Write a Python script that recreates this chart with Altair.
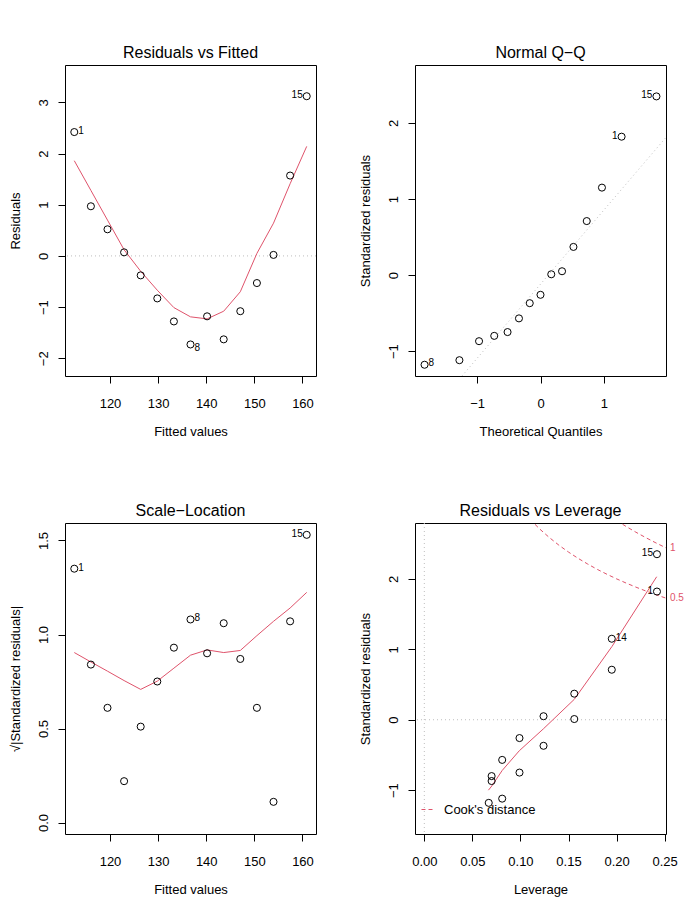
import altair as alt
import pandas as pd

# ---------------- data ----------------
obs_id = list(range(1, 16))
fitted_values = [112.58, 116.03, 119.48, 122.93, 126.38, 129.83, 133.28, 136.73,
                 140.18, 143.63, 147.08, 150.53, 153.98, 157.43, 160.88]
residuals = [2.42, 0.97, 0.52, 0.07, -0.38, -0.83, -1.28, -1.73,
             -1.18, -1.63, -1.08, -0.53, 0.02, 1.57, 3.12]
std_residuals = [1.82, 0.71, 0.37, 0.05, -0.26, -0.57, -0.87, -1.18,
                 -0.80, -1.12, -0.75, -0.37, 0.01, 1.15, 2.35]
sqrt_abs_std_residuals = [1.35, 0.84, 0.61, 0.22, 0.51, 0.75, 0.93, 1.08,
                          0.90, 1.06, 0.87, 0.61, 0.11, 1.07, 1.53]
leverage = [0.242, 0.195, 0.156, 0.124, 0.099, 0.081, 0.070, 0.067,
            0.070, 0.081, 0.099, 0.124, 0.156, 0.195, 0.242]

qq_ids = [8, 10, 7, 9, 11, 6, 12, 5, 13, 4, 3, 2, 14, 1, 15]
qq_theoretical = [-1.83, -1.28, -0.97, -0.73, -0.52, -0.34, -0.17, 0.00,
                  0.17, 0.34, 0.52, 0.73, 0.97, 1.28, 1.83]
qq_sample = [-1.18, -1.12, -0.87, -0.80, -0.75, -0.57, -0.37, -0.26,
             0.01, 0.05, 0.37, 0.71, 1.15, 1.82, 2.35]
qq_line_x = [-1.98, 1.98]
qq_line_y = [-2.05, 1.81]

smooth_resid = [1.86, 1.28, 0.70, 0.12, -0.30, -0.67, -1.01, -1.19,
                -1.23, -1.08, -0.70, 0.05, 0.64, 1.41, 2.14]
smooth_scale = [0.904, 0.854, 0.805, 0.755, 0.708, 0.752, 0.821, 0.890,
                0.918, 0.904, 0.915, 0.994, 1.070, 1.141, 1.224]
smooth_lev_x = [0.0667, 0.0702, 0.0810, 0.0988, 0.1238, 0.1560, 0.1952, 0.2417]
smooth_lev_y = [-1.00, -0.94, -0.72, -0.44, -0.13, 0.29, 1.04, 2.03]

cook_half_h = [0.11, 0.12, 0.13, 0.14, 0.15, 0.16, 0.17, 0.18, 0.19, 0.20,
               0.21, 0.22, 0.23, 0.24, 0.2514]
cook_half_y = [2.844, 2.708, 2.587, 2.478, 2.380, 2.291, 2.210, 2.134, 2.065,
               2.000, 1.940, 1.883, 1.830, 1.780, 1.726]
cook_one_h = [0.20, 0.21, 0.22, 0.23, 0.24, 0.2514]
cook_one_y = [2.828, 2.743, 2.663, 2.588, 2.517, 2.440]

# ---------------- style ----------------
RED = "#DF536B"
GRAY = "#BEBEBE"
FONT = "Liberation Sans"
W, H = 251, 311
COL_GAP, ROW_GAP = 99, 147

fit_dom = [110.65, 162.81]
resid_dom = [-2.346, 3.730]
qqx_dom = [-1.981, 1.981]
qqy_dom = [-1.328, 2.763]
sl_dom = [-0.061, 1.593]
levx_dom = [-0.0097, 0.2514]
levy_dom = [-1.622, 2.793]


def sc(dom):
    return alt.Scale(domain=dom, nice=False, zero=False)


def xenc(dom, values, title, fmt=None):
    ax = alt.Axis(values=values, title=title) if fmt is None else alt.Axis(values=values, title=title, format=fmt)
    return alt.X("x:Q", scale=sc(dom), axis=ax)


def yenc(dom, values, title, fmt=None):
    ax = alt.Axis(values=values, title=title) if fmt is None else alt.Axis(values=values, title=title, format=fmt)
    return alt.Y("y:Q", scale=sc(dom), axis=ax)


def points(df, X, Y):
    return alt.Chart(df).mark_point(shape="circle", filled=False, color="black",
                                    size=50, strokeWidth=1, opacity=1).encode(x=X, y=Y)


def smooth(df, X, Y):
    return alt.Chart(df).mark_line(color=RED, strokeWidth=1, clip=True).encode(x=X, y=Y, order="x:Q")


def hline(X, Y):
    return alt.Chart(pd.DataFrame({"y": [0]})).mark_rule(
        color=GRAY, strokeDash=[1, 3], strokeWidth=1).encode(y=Y)


def vline(X, Y):
    return alt.Chart(pd.DataFrame({"x": [0]})).mark_rule(
        color=GRAY, strokeDash=[1, 3], strokeWidth=1).encode(x=X)


def id_label(df, i, side, dy, X, Y):
    right = side == "right"
    return alt.Chart(df[df["id"] == i]).mark_text(
        align="left" if right else "right", baseline="middle",
        dx=4 if right else -4, dy=dy, fontSize=10, font=FONT, color="black"
    ).encode(x=X, y=Y, text="id:N")


def titled(layers, title):
    return alt.layer(*layers).properties(
        width=W, height=H,
        title=alt.TitleParams(title, fontSize=16, fontWeight="normal", font=FONT,
                              color="black", offset=4, frame="group", anchor="middle"))


# ---- panel 1: Residuals vs Fitted ----
d1 = pd.DataFrame({"id": obs_id, "x": fitted_values, "y": residuals})
s1 = pd.DataFrame({"x": fitted_values, "y": smooth_resid})
X1 = xenc(fit_dom, [120, 130, 140, 150, 160], "Fitted values")
Y1 = yenc(resid_dom, [-2, -1, 0, 1, 2, 3], "Residuals")
p1 = titled([
    hline(X1, Y1), smooth(s1, X1, Y1), points(d1, X1, Y1),
    id_label(d1, 1, "right", -1, X1, Y1),
    id_label(d1, 15, "left", -1, X1, Y1),
    id_label(d1, 8, "right", 4, X1, Y1),
], "Residuals vs Fitted")

# ---- panel 2: Normal Q-Q ----
d2 = pd.DataFrame({"id": qq_ids, "x": qq_theoretical, "y": qq_sample})
l2 = pd.DataFrame({"x": qq_line_x, "y": qq_line_y})
X2 = xenc(qqx_dom, [-1, 0, 1], "Theoretical Quantiles")
Y2 = yenc(qqy_dom, [-1, 0, 1, 2], "Standardized residuals")
qq_line = alt.Chart(l2).mark_line(color=GRAY, strokeDash=[1, 3], strokeWidth=1, clip=True).encode(x=X2, y=Y2)
p2 = titled([
    qq_line, points(d2, X2, Y2),
    id_label(d2, 15, "left", -1, X2, Y2),
    id_label(d2, 1, "left", -1, X2, Y2),
    id_label(d2, 8, "right", -2, X2, Y2),
], "Normal Q\u2212Q")

# ---- panel 3: Scale-Location ----
d3 = pd.DataFrame({"id": obs_id, "x": fitted_values, "y": sqrt_abs_std_residuals})
s3 = pd.DataFrame({"x": fitted_values, "y": smooth_scale})
X3 = xenc(fit_dom, [120, 130, 140, 150, 160], "Fitted values")
Y3 = yenc(sl_dom, [0.0, 0.5, 1.0, 1.5], "\u221a|Standardized residuals|", ".1f")
p3 = titled([
    smooth(s3, X3, Y3), points(d3, X3, Y3),
    id_label(d3, 15, "left", -1, X3, Y3),
    id_label(d3, 1, "right", -1, X3, Y3),
    id_label(d3, 8, "right", -1, X3, Y3),
], "Scale\u2212Location")

# ---- panel 4: Residuals vs Leverage ----
d4 = pd.DataFrame({"id": obs_id, "x": leverage, "y": std_residuals})
s4 = pd.DataFrame({"x": smooth_lev_x, "y": smooth_lev_y})
cook = pd.DataFrame({
    "x": cook_half_h + cook_one_h,
    "y": cook_half_y + cook_one_y,
    "level": ["0.5"] * len(cook_half_h) + ["1"] * len(cook_one_h),
    "kind": ["Cook's distance"] * (len(cook_half_h) + len(cook_one_h)),
})
cook_lab = pd.DataFrame({"x": [cook_half_h[-1], cook_one_h[-1]],
                         "y": [cook_half_y[-1], cook_one_y[-1]],
                         "t": ["0.5", "1"]})
X4 = xenc(levx_dom, [0.0, 0.05, 0.10, 0.15, 0.20, 0.25], "Leverage", ".2f")
Y4 = yenc(levy_dom, [-1, 0, 1, 2], "Standardized residuals")
# legend is positioned relative to the whole grid: offset to the lower-right panel
cook_lines = alt.Chart(cook).mark_line(strokeDash=[4, 3], strokeWidth=1, clip=True).encode(
    x=X4, y=Y4, detail="level:N", order="x:Q",
    color=alt.Color("kind:N", scale=alt.Scale(domain=["Cook's distance"], range=[RED]),
                    legend=alt.Legend(orient="none", legendX=W + COL_GAP + 6,
                                      legendY=H + ROW_GAP + 279, title=None,
                                      symbolType="stroke", symbolStrokeWidth=1,
                                      symbolDash=[4, 3], symbolSize=196,
                                      labelFontSize=13, labelFont=FONT, labelColor="black",
                                      labelOffset=8, padding=0)))
cook_text = alt.Chart(cook_lab).mark_text(align="left", baseline="middle", dx=4, fontSize=10,
                                          font=FONT, color=RED).encode(x=X4, y=Y4, text="t:N")
p4 = titled([
    hline(X4, Y4), vline(X4, Y4), cook_lines, smooth(s4, X4, Y4), points(d4, X4, Y4), cook_text,
    id_label(d4, 15, "left", -1, X4, Y4),
    id_label(d4, 1, "left", -1, X4, Y4),
    id_label(d4, 14, "right", -1, X4, Y4),
], "Residuals vs Leverage")

chart = alt.concat(p1, p2, p3, p4, columns=2, spacing={"row": ROW_GAP, "column": COL_GAP},
                   bounds="flush").properties(
    padding={"left": 0, "top": 36, "right": 5, "bottom": 5}, background="white"
).configure_view(stroke="black", strokeWidth=1).configure_axis(
    domain=False, grid=False, ticks=True, tickColor="black", tickSize=7, tickWidth=1,
    labelFont=FONT, labelFontSize=13, labelColor="black",
    titleFont=FONT, titleFontSize=13, titleFontWeight="normal", titleColor="black",
).configure_axisX(labelPadding=14, titlePadding=15).configure_axisY(
    labelAngle=270, labelAlign="center", labelBaseline="bottom", labelPadding=8, titlePadding=15
)

chart.save("out.html", embed_options={"renderer": "svg", "actions": False})
